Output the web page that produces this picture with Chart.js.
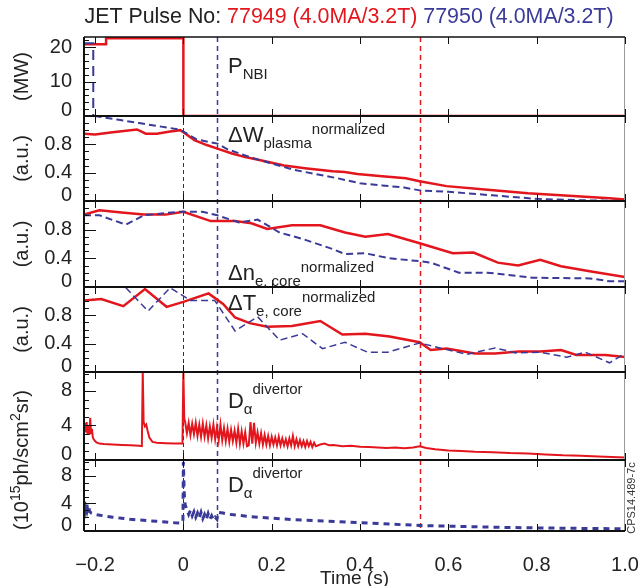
<!DOCTYPE html>
<html>
<head>
<meta charset="utf-8">
<script src="https://cdn.jsdelivr.net/npm/chart.js@4/dist/chart.umd.min.js"></script>
<style>
  html, body { margin: 0; padding: 0; background: #fff; }
  #wrap { position: relative; width: 638px; height: 586px; }
</style>
</head>
<body>
<div id="wrap"><canvas id="jet" width="638" height="586"></canvas></div>
<script>
// axis ticks
const timeTicks = [-0.2, 0, 0.2, 0.4, 0.6, 0.8, 1.0];
const nbiTicks = [0, 10, 20];
const nbiMinor = [2, 4, 6, 8, 12, 14, 16, 18, 22];
const auTicks = [0, 0.4, 0.8];
const auMinor = [0.1, 0.2, 0.3, 0.5, 0.6, 0.7, 0.9, 1.0, 1.1];
const daTicks = [0, 4, 8];
const daMinor = [1, 2, 3, 5, 6, 7, 9, 10];

// vertical marker times (s): black, blue (77950), red (77949)
const markerTimes = [0, 0.077, 0.535];

// P_NBI (MW)
const tNbiRed = [-0.225, -0.175, -0.175, 0, 0, 1.0];
const nbiRed = [20.9, 20.9, 22.6, 22.6, 0, 0];
const tNbiBlue = [-0.225, -0.204, -0.204, 1.0];
const nbiBlue = [21.2, 21.2, 0, 0];

// dW plasma normalized
const tWRed = [-0.225, -0.2, -0.16, -0.105, -0.085, -0.06, -0.03, -0.007, 0, 0.025, 0.053, 0.077, 0.11, 0.14, 0.172,
  0.228, 0.28, 0.338, 0.365, 0.394, 0.45, 0.504, 0.535, 0.596, 0.689, 0.78, 0.873, 0.965, 1.0];
const wRed = [0.95, 0.94, 0.97, 1.01, 0.95, 0.95, 0.98, 1.0, 0.97, 0.86, 0.79, 0.74, 0.67, 0.62, 0.58,
  0.50, 0.46, 0.42, 0.41, 0.38, 0.35, 0.32, 0.28, 0.21, 0.16, 0.11, 0.075, 0.04, 0.02];
const tWBlue = [-0.225, -0.2, -0.15, -0.1, -0.05, -0.01, 0, 0.03, 0.077, 0.1, 0.15, 0.2, 0.25, 0.3, 0.35, 0.4,
  0.45, 0.5, 0.535, 0.6, 0.7, 0.8, 0.9, 1.0];
const wBlue = [1.24, 1.2, 1.15, 1.10, 1.05, 1.01, 0.98, 0.87, 0.81, 0.73, 0.62, 0.53, 0.44, 0.38, 0.32, 0.25,
  0.22, 0.19, 0.15, 0.13, 0.08, 0.03, 0.01, 0.0];

// dn_e core normalized
const tNeRed = [-0.225, -0.19, -0.14, -0.09, -0.04, 0, 0.062, 0.117, 0.154, 0.19, 0.246, 0.31, 0.366, 0.412,
  0.463, 0.535, 0.61, 0.657, 0.712, 0.758, 0.808, 0.855, 0.92, 1.0];
const neRed = [1.01, 1.07, 1.04, 1.01, 1.01, 1.05, 0.92, 0.92, 0.89, 0.81, 0.86, 0.86, 0.76, 0.70,
  0.74, 0.61, 0.47, 0.48, 0.34, 0.30, 0.38, 0.29, 0.22, 0.14];
const tNeBlue = [-0.225, -0.19, -0.13, -0.09, -0.01, 0.043, 0.077, 0.126, 0.168, 0.218, 0.27, 0.338, 0.366,
  0.412, 0.467, 0.535, 0.56, 0.624, 0.689, 0.79, 0.92, 0.965, 1.0];
const neBlue = [1.0, 1.0, 0.87, 1.0, 1.05, 1.05, 1.0, 0.90, 0.94, 0.76, 0.67, 0.53, 0.46,
  0.47, 0.40, 0.36, 0.34, 0.20, 0.20, 0.13, 0.12, 0.08, 0.08];

// dT_e core normalized
const tTeRed = [-0.225, -0.186, -0.136, -0.087, -0.038, 0, 0.057, 0.09, 0.117, 0.15, 0.19, 0.246, 0.31, 0.36,
  0.412, 0.467, 0.535, 0.56, 0.596, 0.66, 0.706, 0.76, 0.808, 0.855, 0.89, 0.956, 1.0];
const teRed = [1.01, 1.03, 0.93, 1.17, 0.92, 0.99, 1.11, 0.96, 0.77, 0.69, 0.64, 0.65, 0.72, 0.53,
  0.54, 0.50, 0.42, 0.31, 0.33, 0.26, 0.26, 0.29, 0.29, 0.31, 0.24, 0.24, 0.21];
const tTeBlue = [-0.225, -0.141, -0.08, -0.03, 0.016, 0.071, 0.117, 0.168, 0.218, 0.27, 0.315, 0.366, 0.417,
  0.463, 0.535, 0.587, 0.642, 0.706, 0.753, 0.808, 0.868, 0.91, 0.965, 1.0];
const teBlue = [1.26, 1.26, 0.86, 1.19, 1.01, 1.01, 0.58, 0.78, 0.45, 0.54, 0.33, 0.42, 0.28,
  0.28, 0.41, 0.33, 0.25, 0.34, 0.27, 0.28, 0.21, 0.28, 0.13, 0.26];

// D-alpha divertor, 77949 (1e15 ph/s cm2 sr)
const tDaRed = [
  -0.225, -0.223, -0.221, -0.219, -0.217, -0.215, -0.213, -0.211, -0.209, -0.207, -0.205, -0.203,
  -0.2, -0.196, -0.19, -0.18, -0.16, -0.14, -0.12, -0.1, -0.094, -0.092, -0.09, -0.087,
  -0.084, -0.081, -0.077, -0.07, -0.06, -0.04, -0.02, -0.002, 0, 0.002,
  0.004, 0.008, 0.012, 0.016, 0.020, 0.024, 0.028, 0.032, 0.036, 0.040, 0.044, 0.048,
  0.052, 0.056, 0.060, 0.064, 0.068, 0.072, 0.076, 0.080, 0.084, 0.088, 0.092, 0.096,
  0.100, 0.104, 0.108, 0.112, 0.116, 0.120, 0.124, 0.128, 0.132, 0.136, 0.140, 0.144,
  0.148, 0.152, 0.156, 0.160, 0.164, 0.168, 0.172, 0.176, 0.180, 0.184, 0.188, 0.192,
  0.196, 0.200, 0.204, 0.208, 0.212, 0.216, 0.220, 0.224, 0.228, 0.232, 0.236, 0.240,
  0.244, 0.248, 0.252, 0.256, 0.260, 0.264, 0.268, 0.272, 0.276, 0.280, 0.284, 0.288,
  0.292, 0.296, 0.300,
  0.31, 0.32, 0.33, 0.34, 0.36, 0.38, 0.40, 0.42, 0.44, 0.46, 0.48, 0.50, 0.52, 0.535,
  0.55, 0.57, 0.60, 0.63, 0.66, 0.70, 0.74, 0.78, 0.82, 0.86, 0.90, 0.94, 0.97, 1.0];
const daRed = [
  3.6, 4.3, 3.2, 4.4, 3.0, 4.0, 2.9, 4.9, 3.1, 3.6, 2.6, 2.4,
  2.2, 2.0, 1.9, 1.85, 1.8, 1.75, 1.7, 1.65, 1.6, 10.3, 4.4, 3.9,
  4.1, 3.4, 2.6, 2.1, 2.0, 1.95, 1.9, 1.9, 10.3, 4.8,
  4.4, 3.1, 4.3, 2.9, 4.2, 3.0, 4.3, 2.8, 4.1, 2.7, 4.2, 2.7,
  4.0, 2.5, 3.9, 2.6, 4.1, 2.4, 3.8, 2.3, 4.1, 2.3, 3.7, 2.2,
  3.6, 2.1, 3.5, 2.2, 3.4, 2.0, 3.6, 1.9, 3.3, 1.9, 3.2, 1.6,
  1.7, 4.4, 1.9, 4.3, 2.0, 3.2, 1.9, 3.1, 1.8, 2.9, 1.8, 2.8,
  1.7, 2.7, 1.8, 2.6, 1.7, 2.7, 1.7, 2.5, 1.7, 2.4, 1.6, 2.5,
  1.7, 2.8, 1.6, 2.4, 1.6, 2.3, 1.6, 2.2, 1.5, 2.2, 1.6, 2.1,
  1.5, 2.0, 1.6,
  1.8, 1.9, 1.7, 1.75, 1.6, 1.65, 1.55, 1.5, 1.45, 1.4, 1.45, 1.35, 1.45, 1.6,
  1.4, 1.25, 1.1, 1.05, 0.95, 0.9, 0.8, 0.75, 0.65, 0.55, 0.5, 0.4, 0.35, 0.3];

// D-alpha divertor, 77950
const tDaBlue = [
  -0.225, -0.223, -0.221, -0.219, -0.217, -0.215, -0.212, -0.208, -0.2, -0.18, -0.16, -0.14,
  -0.12, -0.1, -0.08, -0.06, -0.04, -0.02, -0.005, -0.001, 0, 0.002, 0.004,
  0.008, 0.012, 0.016, 0.020, 0.024, 0.028, 0.032, 0.036, 0.040, 0.044, 0.048, 0.052,
  0.056, 0.060, 0.064, 0.068, 0.072, 0.076,
  0.078, 0.09, 0.1, 0.12, 0.15, 0.18, 0.2, 0.25, 0.3, 0.35, 0.4, 0.45, 0.5, 0.535,
  0.6, 0.7, 0.8, 0.9, 1.0];
const daBlue = [
  3.4, 4.3, 3.3, 4.2, 3.1, 3.6, 2.8, 2.6, 2.4, 2.2, 2.0, 1.85,
  1.7, 1.6, 1.5, 1.4, 1.3, 1.2, 1.15, 1.4, 10.0, 5.5, 3.8,
  3.1, 2.4, 3.0, 2.2, 2.8, 2.0, 2.6, 1.9, 2.7, 1.8, 2.4, 1.7,
  2.5, 1.7, 2.2, 1.6, 2.0, 1.7,
  2.7, 2.6, 2.45, 2.3, 2.1, 1.95, 1.85, 1.65, 1.5, 1.35, 1.2, 1.05, 0.9, 0.8,
  0.7, 0.55, 0.45, 0.38, 0.32];

const RED = '#e3151d';
const BLUE = '#3a3a98';
const INK = '#222';
const FONT = "'Liberation Sans', Arial, Helvetica, sans-serif";

function series(t, v, color, axis, width, dash) {
  return {
    data: t.map((x, i) => ({x: x, y: v[i]})),
    yAxisID: axis,
    borderColor: color,
    borderWidth: width,
    borderDash: dash || [],
    pointRadius: 0,
    tension: 0,
    fill: false
  };
}

// one y axis per panel, stacked from the top down
function panelAxis(max, ticks, weight, order, title) {
  return {
    type: 'linear', position: 'left', stack: 'panels', stackWeight: weight, weight: order,
    min: 0, max: max, offset: false,
    afterBuildTicks: s => { s.ticks = ticks.map(v => ({value: v})); },
    afterFit: s => { s.width = 84; },
    grid: {display: false},
    border: {display: false},
    ticks: {
      autoSkip: false, padding: 4, color: INK,
      font: c => ({family: FONT, size: 20, lineHeight: c.tick && c.tick.value === 0 ? '11px' : 1.2}),
      callback: v => v === 0 ? ['0', ''] : String(v)
    },
    title: {display: !!title, text: title, color: INK, font: {family: FONT, size: 20}, padding: {top: 10, bottom: 0}}
  };
}

const panels = [
  {id: 'yNbi', minor: nbiMinor},
  {id: 'yW', minor: auMinor},
  {id: 'yNe', minor: auMinor},
  {id: 'yTe', minor: auMinor},
  {id: 'yDa1', minor: daMinor},
  {id: 'yDa2', minor: daMinor}
];

const panelLabels = [
  {axis: 'yNbi', t: 0.101, dy: 36, parts: [['P', 22, 0], ['NBI', 15, 6]]},
  {axis: 'yW', t: 0.101, dy: 26, parts: [['\u0394W', 22, 0], ['plasma', 15, 6], ['normalized', 15, -8]]},
  {axis: 'yNe', t: 0.101, dy: 79, parts: [['\u0394n', 22, 0], ['e, core', 15, 6], ['normalized', 15, -8]]},
  {axis: 'yTe', t: 0.101, dy: 23, parts: [['\u0394T', 22, 0], ['e, core', 15, 6], ['normalized', 15, -8]]},
  {axis: 'yDa1', t: 0.101, dy: 36, parts: [['D', 22, 0], ['\u03b1', 15, 6], ['divertor', 15, -14]]},
  {axis: 'yDa2', t: 0.101, dy: 32, parts: [['D', 22, 0], ['\u03b1', 15, 6], ['divertor', 15, -14]]}
];

function rich(ctx, x, y, parts, color) {
  let cx = x;
  ctx.fillStyle = color;
  parts.forEach(p => {
    ctx.font = p[1] + 'px ' + FONT;
    ctx.fillText(p[0], cx, y + p[2]);
    cx += ctx.measureText(p[0]).width;
  });
  return cx - x;
}

function seg(ctx, x1, y1, x2, y2) {
  ctx.beginPath(); ctx.moveTo(x1, y1); ctx.lineTo(x2, y2); ctx.stroke();
}

const markers = {
  id: 'markers',
  beforeDatasetsDraw(chart) {
    const {ctx, chartArea: a, scales: {x}} = chart;
    const styles = [['#333', 1, [4, 3]], [BLUE, 1.5, [5, 4]], [RED, 1.5, [5, 4]]];
    ctx.save();
    markerTimes.forEach((t, i) => {
      const px = Math.round(x.getPixelForValue(t)) + 0.5;
      ctx.strokeStyle = styles[i][0];
      ctx.lineWidth = styles[i][1];
      ctx.setLineDash(styles[i][2]);
      seg(ctx, px, a.top, px, a.bottom);
    });
    ctx.restore();
  }
};

const frame = {
  id: 'frame',
  afterDatasetsDraw(chart) {
    const {ctx, chartArea: a, scales} = chart;
    const x = scales.x;
    ctx.save();
    ctx.strokeStyle = '#999';
    ctx.lineWidth = 1;
    seg(ctx, a.right - 0.5, a.top, a.right - 0.5, a.bottom);
    ctx.strokeStyle = '#111';
    ctx.lineWidth = 1.5;
    seg(ctx, a.left, a.top, a.right, a.top);
    ctx.lineWidth = 2;
    seg(ctx, a.left, a.top, a.left, a.bottom);
    panels.forEach(p => {
      const s = scales[p.id];
      ctx.lineWidth = 2;
      seg(ctx, a.left, s.bottom, a.right, s.bottom);
      ctx.lineWidth = 1;
      timeTicks.forEach(t => {
        const px = Math.round(x.getPixelForValue(t)) + 0.5;
        seg(ctx, px, s.bottom, px, s.bottom - 7);
        seg(ctx, px, s.top, px, s.top + 7);
      });
      s.ticks.forEach(tk => {
        const py = Math.round(s.getPixelForValue(tk.value)) + 0.5;
        seg(ctx, a.left, py, a.left + 12, py);
      });
      p.minor.forEach(v => {
        const py = Math.round(s.getPixelForValue(v)) + 0.5;
        seg(ctx, a.left, py, a.left + 5, py);
      });
    });
    ctx.restore();
  },
  afterDraw(chart) {
    const {ctx, scales} = chart;
    ctx.save();
    ctx.textBaseline = 'alphabetic';
    // title in three colours
    const parts = [['JET Pulse No: ', INK], ['77949 (4.0MA/3.2T) ', RED], ['77950 (4.0MA/3.2T)', BLUE]];
    ctx.font = '21.4px ' + FONT;
    const total = parts.reduce((w, p) => w + ctx.measureText(p[0]).width, 0);
    let tx = 349 - total / 2;
    parts.forEach(p => {
      ctx.fillStyle = p[1];
      ctx.fillText(p[0], tx, 23);
      tx += ctx.measureText(p[0]).width;
    });
    // panel labels
    panelLabels.forEach(l => {
      const s = scales[l.axis];
      rich(ctx, scales.x.getPixelForValue(l.t), s.top + l.dy, l.parts, INK);
    });
    // shared y title of the two D-alpha panels
    ctx.save();
    ctx.translate(28, 460);
    ctx.rotate(-Math.PI / 2);
    const yt = [['(10', 20, 0], ['15', 14, -8], ['ph/scm', 20, 0], ['2', 14, -8], ['sr)', 20, 0]];
    let w = 0;
    yt.forEach(p => { ctx.font = p[1] + 'px ' + FONT; w += ctx.measureText(p[0]).width; });
    rich(ctx, -w / 2, 0, yt, INK);
    ctx.restore();
    // figure id
    ctx.save();
    ctx.translate(635, 498);
    ctx.rotate(-Math.PI / 2);
    ctx.font = '11px ' + FONT;
    ctx.fillStyle = '#333';
    ctx.textAlign = 'center';
    ctx.fillText('CPS14.489-7c', 0, 0);
    ctx.restore();
    ctx.restore();
  }
};

new Chart(document.getElementById('jet'), {
  type: 'line',
  data: {
    datasets: [
      series(tNbiBlue, nbiBlue, BLUE, 'yNbi', 2, [10, 6]),
      series(tNbiRed, nbiRed, RED, 'yNbi', 2.5),
      series(tWBlue, wBlue, BLUE, 'yW', 2, [7, 4]),
      series(tWRed, wRed, RED, 'yW', 2.5),
      series(tNeBlue, neBlue, BLUE, 'yNe', 2, [7, 4]),
      series(tNeRed, neRed, RED, 'yNe', 2.5),
      series(tTeBlue, teBlue, BLUE, 'yTe', 1.5, [7, 4]),
      series(tTeRed, teRed, RED, 'yTe', 2.5),
      series(tDaRed, daRed, RED, 'yDa1', 2),
      series(tDaBlue, daBlue, BLUE, 'yDa2', 3, [6, 5])
    ]
  },
  options: {
    responsive: false,
    animation: false,
    devicePixelRatio: 1,
    layout: {padding: {top: 37, right: 13, left: 0, bottom: 0}},
    plugins: {legend: {display: false}, tooltip: {enabled: false}},
    scales: {
      x: {
        type: 'linear', min: -0.225, max: 1.0,
        afterBuildTicks: s => { s.ticks = timeTicks.map(v => ({value: v})); },
        afterFit: s => { s.height = 55; s.paddingLeft = 0; s.paddingRight = 0; },
        grid: {display: false},
        border: {display: false},
        ticks: {
          autoSkip: false, maxRotation: 0, padding: 14, color: INK,
          font: {family: FONT, size: 20},
          callback: v => v === 0 ? '0' : (v < 0 ? '\u2212' : '') + Math.abs(v).toFixed(1)
        },
        title: {display: true, text: 'Time (s)', color: INK, font: {family: FONT, size: 19, lineHeight: 1}, padding: {top: 0, bottom: -2}}
      },
      yDa2: panelAxis(10.3, daTicks, 71, 1, ''),
      yDa1: panelAxis(10.2, daTicks, 88, 2, ''),
      yTe: panelAxis(1.2, auTicks, 85, 3, '(a.u.)'),
      yNe: panelAxis(1.2, auTicks, 86, 4, '(a.u.)'),
      yW: panelAxis(1.2, auTicks, 85, 5, '(a.u.)'),
      yNbi: panelAxis(23, nbiTicks, 79, 6, '(MW)')
    }
  },
  plugins: [markers, frame]
});
</script>
</body>
</html>
